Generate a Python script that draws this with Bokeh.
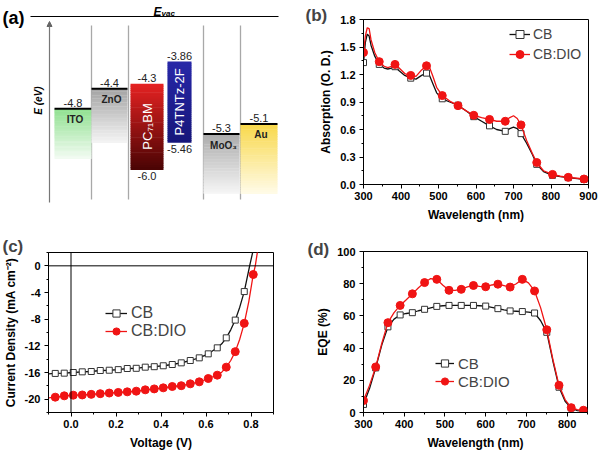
import numpy as np
from bokeh.plotting import figure
from bokeh.layouts import column, row
from bokeh.models import (Range1d, FixedTicker, PrintfTickFormatter, Legend, LegendItem,
                          Label, Span, Arrow, NormalHead)
from bokeh.core.properties import value
from bokeh.embed import file_html
from bokeh.resources import INLINE

FONT = "Liberation Sans"
RED = "#f01414"
BLK = "#111111"

# ---------------- (a) energy level data ----------------
MATERIALS = ["ITO", "ZnO", "PC₇₁BM", "P4TNTz-2F", "MoO₃", "Au"]
LEVEL_TOP = [-4.8, -4.4, -4.3, -3.86, -5.3, -5.1]
LEVEL_BOTTOM = [None, None, -6.0, -5.46, None, None]
TOP_LABELS = ["-4.8", "-4.4", "-4.3", "-3.86", "-5.3", "-5.1"]
BOTTOM_LABELS = ["", "", "-6.0", "-5.46", "", ""]

# ---------------- (b) absorption ----------------
ABS_WL = [300, 305, 310, 315, 320, 330, 342, 355, 365, 375, 384, 395, 410, 426, 440, 455, 468, 475,
          485, 495, 510, 530, 552, 575, 594, 615, 636, 655, 678, 690, 700, 710, 720, 735, 750, 762,
          780, 804, 825, 846, 870, 888, 897]
ABS_CB = [1.33, 1.55, 1.64, 1.62, 1.52, 1.40, 1.31, 1.27, 1.26, 1.27, 1.285, 1.24, 1.19, 1.16, 1.15,
          1.19, 1.215, 1.20, 1.10, 1.00, 0.935, 0.90, 0.865, 0.80, 0.74, 0.69, 0.64, 0.60, 0.58,
          0.61, 0.625, 0.61, 0.555, 0.45, 0.33, 0.22, 0.14, 0.10, 0.085, 0.075, 0.065, 0.055, 0.05]
ABS_DIO = [1.44, 1.62, 1.71, 1.70, 1.58, 1.44, 1.34, 1.29, 1.275, 1.29, 1.31, 1.27, 1.21, 1.19, 1.18,
           1.25, 1.295, 1.29, 1.18, 1.06, 0.97, 0.91, 0.86, 0.80, 0.755, 0.73, 0.71, 0.69, 0.69,
           0.73, 0.75, 0.72, 0.65, 0.48, 0.34, 0.24, 0.15, 0.11, 0.09, 0.078, 0.068, 0.06, 0.055]
ABS_MK_WL = [300, 342, 384, 426, 468, 510, 552, 594, 636, 678, 720, 762, 804, 846, 888]
ABS_MK_CB = [1.33, 1.31, 1.285, 1.16, 1.215, 0.935, 0.865, 0.74, 0.64, 0.58, 0.555, 0.22, 0.10, 0.075, 0.055]
ABS_MK_DIO = [1.44, 1.34, 1.31, 1.19, 1.295, 0.97, 0.86, 0.755, 0.71, 0.69, 0.65, 0.24, 0.11, 0.078, 0.06]

# ---------------- (c) J-V ----------------
JV_MK_V = [-0.07, -0.03, 0.01, 0.05, 0.09, 0.13, 0.17, 0.21, 0.25, 0.29, 0.33, 0.37, 0.41, 0.45,
           0.49, 0.53, 0.57, 0.61, 0.65, 0.69, 0.73, 0.77]
JV_MK_CB = [-16.14, -16.1, -16.0, -15.9, -15.85, -15.7, -15.66, -15.57, -15.4, -15.37, -15.2, -15.13,
            -14.99, -14.8, -14.55, -14.2, -13.8, -13.2, -12.3, -10.8, -8.14, -3.86]
JV_MK_V_DIO = [-0.07, -0.03, 0.01, 0.05, 0.09, 0.13, 0.17, 0.21, 0.25, 0.29, 0.33, 0.37, 0.41, 0.45,
               0.49, 0.53, 0.57, 0.61, 0.65, 0.69, 0.73, 0.77, 0.81]
JV_MK_DIO = [-19.7, -19.5, -19.4, -19.37, -19.28, -19.18, -19.08, -18.99, -18.9, -18.8, -18.6, -18.46,
             -18.3, -18.1, -17.98, -17.7, -17.4, -16.9, -16.4, -15.2, -12.87, -8.63, -1.3]
JV_LN_V_CB = [-0.1, -0.07, -0.03, 0.01, 0.05, 0.09, 0.13, 0.17, 0.21, 0.25, 0.29, 0.33, 0.37, 0.41,
              0.45, 0.49, 0.53, 0.57, 0.61, 0.65, 0.67, 0.69, 0.71, 0.73, 0.75, 0.77, 0.794, 0.81]
JV_LN_CB = [-16.2, -16.14, -16.1, -16.0, -15.9, -15.85, -15.7, -15.66, -15.57, -15.4, -15.37, -15.2,
            -15.13, -14.99, -14.8, -14.55, -14.2, -13.8, -13.2, -12.3, -11.7, -10.8, -9.6, -8.14,
            -6.2, -3.86, 0.0, 2.4]
JV_LN_V_DIO = [-0.1, -0.07, -0.03, 0.01, 0.05, 0.09, 0.13, 0.17, 0.21, 0.25, 0.29, 0.33, 0.37, 0.41,
               0.45, 0.49, 0.53, 0.57, 0.61, 0.65, 0.67, 0.69, 0.71, 0.73, 0.75, 0.77, 0.79, 0.81,
               0.819, 0.83]
JV_LN_DIO = [-19.8, -19.7, -19.5, -19.4, -19.37, -19.28, -19.18, -19.08, -18.99, -18.9, -18.8, -18.6,
             -18.46, -18.3, -18.1, -17.98, -17.7, -17.4, -16.9, -16.4, -15.95, -15.2, -14.2, -12.87,
             -11.0, -8.63, -5.4, -1.3, 0.0, 2.4]

# ---------------- (d) EQE ----------------
EQE_WL = [300, 315, 330, 345, 360, 375, 390, 405, 420, 435, 450, 465, 480, 495, 510, 525, 540, 555,
          570, 585, 600, 615, 630, 645, 660, 675, 690, 705, 720, 735, 750, 765, 780, 795, 810, 825, 840]
EQE_CB = [5.0, 15, 27.7, 42, 53.2, 58, 60.6, 61.5, 62.0, 63.2, 64.1, 65.0, 65.9, 66.3, 66.5, 66.5,
          66.5, 66.5, 66.5, 66.3, 66.1, 65.3, 64.5, 63.7, 63.1, 62.9, 62.7, 62.4, 61.8, 57, 49.8, 32,
          15.7, 7, 2.8, 1.2, 0.8]
EQE_DIO = [7.4, 17, 28.3, 43, 55.8, 62, 66.5, 70, 73.7, 77.5, 80.7, 83.2, 82.7, 79, 75.9, 75.8,
           76.5, 78, 78.9, 78.4, 78.1, 79.2, 79.7, 78.8, 77.9, 80, 82.7, 80.5, 75.5, 65, 51.4, 33,
           16.9, 8, 3.0, 1.8, 1.4]
EQE_MK_WL = [300, 330, 360, 390, 420, 450, 480, 510, 540, 570, 600, 630, 660, 690, 720, 750, 780, 810]
EQE_MK_CB = [5.0, 27.7, 53.2, 60.6, 62.0, 64.1, 65.9, 66.5, 66.5, 66.5, 66.1, 64.5, 63.1, 62.7, 61.8,
             49.8, 15.7, 2.8]
EQE_MK_WL_DIO = [300, 330, 360, 390, 420, 450, 480, 510, 540, 570, 600, 630, 660, 690, 720, 750,
                 780, 810, 840]
EQE_MK_DIO = [7.4, 28.3, 55.8, 66.5, 73.7, 80.7, 82.7, 75.9, 76.5, 78.9, 78.1, 79.7, 77.9, 82.7,
              75.5, 51.4, 16.9, 3.0, 1.4]

# ---------------- (a) layout (schematic) ----------------
A_X0 = [54, 91, 130, 167, 203, 240]
A_X1 = [91, 127, 163, 191, 239, 277]
A_FADE_BOTTOM = [-5.79, -5.47, None, None, -6.48, -6.48]
A_COL_TOP = ["#8fe08f", "#a3a3a3", "#e62222", "#2828a8", "#ababab", "#f8d84a"]
A_COL_BOT = ["#f2fbf2", "#f4f4f4", "#4a0404", "#16167a", "#f6f6f6", "#fffbe8"]
A_SEP_X = [91, 128, 203, 240]


def hex2rgb(h):
    h = h.lstrip("#")
    return np.array([int(h[i:i + 2], 16) for i in (0, 2, 4)], dtype=float)


def mix(c0, c1, t):
    c = hex2rgb(c0) * (1 - t) + hex2rgb(c1) * t
    return "#%02x%02x%02x" % tuple(int(round(v)) for v in c)


pa = figure(width=300, height=226, x_range=Range1d(0, 300), y_range=Range1d(-7.137, -2.648),
            x_axis_type=None, y_axis_type=None, toolbar_location=None, output_backend="svg",
            min_border=0)
pa.frame_align = False
pa.grid.visible = False
pa.outline_line_color = None

pa.segment(x0=A_SEP_X, x1=A_SEP_X, y0=[-3.145] * 4, y1=[-6.601] * 4, line_color="#a8a8a8",
           line_width=1.3)
pa.segment(x0=[30], x1=[278], y0=[-2.966], y1=[-2.966], line_color="black", line_width=1.2)
pa.text(x=[153], y=[-2.872], text=["E"], text_font=value(FONT), text_font_size="12px",
        text_font_style="bold italic", text_baseline="alphabetic", text_align="left")
pa.text(x=[161], y=[-2.900], text=["vac"], text_font=value(FONT), text_font_size="8px",
        text_font_style="bold italic", text_baseline="alphabetic", text_align="left")
pa.text(x=[2], y=[-2.986], text=["(a)"], text_font=value(FONT), text_font_size="18px",
        text_font_style="bold", text_baseline="middle", text_align="left")
pa.add_layout(Arrow(end=NormalHead(size=5, fill_color="#666666", line_color="#666666"),
                    x_start=49, y_start=-6.66, x_end=49, y_end=-3.065,
                    line_color="#777777", line_width=1.2))
pa.text(x=[38], y=[-4.634], text=["E (eV)"], angle=np.pi / 2, text_font=value(FONT),
        text_font_size="10px", text_font_style="bold italic", text_align="center",
        text_baseline="middle")

N = 40
for i, name in enumerate(MATERIALS):
    top = LEVEL_TOP[i]
    bot = LEVEL_BOTTOM[i] if LEVEL_BOTTOM[i] is not None else A_FADE_BOTTOM[i]
    edges = np.linspace(top, bot, N + 1)
    cols = [mix(A_COL_TOP[i], A_COL_BOT[i], (k + 0.5) / N) for k in range(N)]
    step = (top - bot) / N
    pa.quad(left=[A_X0[i]] * N, right=[A_X1[i]] * N, top=list(edges[:-1]),
            bottom=list(edges[1:] - step * 0.3), fill_color=cols, line_color=None)
    xc = (A_X0[i] + A_X1[i]) / 2
    pa.text(x=[xc], y=[top], text=[TOP_LABELS[i]], text_font=value(FONT), text_font_size="11px",
            text_color="#222222", text_align="center", text_baseline="bottom", y_offset=-2)
    if LEVEL_BOTTOM[i] is None:
        pa.segment(x0=[A_X0[i]], x1=[A_X1[i]], y0=[top], y1=[top], line_color="black",
                   line_width=2)
        pa.text(x=[xc + 2], y=[top], text=[name], text_font=value(FONT), text_font_size="10px",
                text_font_style="bold", text_color="#222222", text_align="center",
                text_baseline="middle", y_offset=11)
    else:
        pa.text(x=[xc], y=[bot], text=[BOTTOM_LABELS[i]], text_font=value(FONT),
                text_font_size="11px", text_color="#222222", text_align="center",
                text_baseline="top", y_offset=3)
        pa.text(x=[xc], y=[(top + bot) / 2], text=[name], angle=np.pi / 2, text_font=value(FONT),
                text_font_size="13px", text_color="white", text_align="center",
                text_baseline="middle")


def make_panel(xr, yr, mb, xticks, yticks, xfmt, yfmt, xlabel, ylabel, tag, tag_pos):
    p = figure(width=300, height=226, x_range=Range1d(*xr), y_range=Range1d(*yr),
               toolbar_location=None, output_backend="svg",
               min_border_left=mb[0], min_border_right=mb[1], min_border_top=mb[2],
               min_border_bottom=mb[3])
    p.frame_align = False
    p.grid.visible = False
    p.outline_line_color = "black"
    p.outline_line_width = 1
    xminor = [(a + b) / 2 for a, b in zip(xticks[:-1], xticks[1:])]
    yminor = [(a + b) / 2 for a, b in zip(yticks[:-1], yticks[1:])]
    p.xaxis.ticker = FixedTicker(ticks=xticks, minor_ticks=xminor + xticks)
    p.yaxis.ticker = FixedTicker(ticks=yticks, minor_ticks=yminor + yticks)
    p.xaxis.formatter = PrintfTickFormatter(format=xfmt)
    p.yaxis.formatter = PrintfTickFormatter(format=yfmt)
    for ax in (p.xaxis, p.yaxis):
        ax.major_tick_out = 4
        ax.major_tick_in = 0
        ax.minor_tick_out = 2
        ax.minor_tick_in = 0
        ax.axis_line_color = "black"
        ax.major_tick_line_color = "black"
        ax.minor_tick_line_color = "black"
        ax.major_label_text_font = FONT
        ax.major_label_text_font_size = "11px"
        ax.major_label_text_font_style = "bold"
        ax.major_label_text_color = "black"
        ax.axis_label_text_font = FONT
        ax.axis_label_text_font_size = "12px"
        ax.axis_label_text_font_style = "bold"
        ax.axis_label_text_color = "black"
    p.xaxis.major_label_standoff = 3
    p.yaxis.major_label_standoff = 4
    p.xaxis.axis_label_standoff = 5
    p.yaxis.axis_label_standoff = 4
    p.xaxis.axis_label = xlabel
    p.yaxis.axis_label = ylabel
    p.add_layout(Label(x=tag_pos[0], y=tag_pos[1], x_units="screen", y_units="screen", text=tag,
                       text_font=FONT, text_font_size="17px", text_font_style="bold",
                       text_baseline="top", text_align="left"), "above")
    return p


def add_series(p, lx, ly, mx, my, sq):
    if sq:
        l = p.line(lx, ly, line_color=BLK, line_width=1.3)
        s = p.scatter(mx, my, marker="square", size=6, fill_color="white", line_color="#333333",
                      line_width=1)
    else:
        l = p.line(lx, ly, line_color=RED, line_width=1.3)
        s = p.scatter(mx, my, marker="circle", size=8, fill_color=RED, line_color=RED)
    return l, s


def add_legend(p, items, loc, fs, rowh, gw, standoff):
    lg = Legend(items=[LegendItem(label=t, renderers=r) for t, r in items], location=loc,
                border_line_color=None, background_fill_alpha=0, padding=0, margin=0, spacing=0,
                glyph_width=gw, glyph_height=rowh, label_height=rowh, label_standoff=standoff,
                label_text_font=FONT, label_text_font_size=fs)
    p.add_layout(lg)


# ---------------- (b) ----------------
pb = make_panel((300, 900), (0, 1.8), (63, 12, 17, 42), [300, 400, 500, 600, 700, 800, 900],
                [0.0, 0.3, 0.6, 0.9, 1.2, 1.5, 1.8], "%d", "%.1f", "Wavelength (nm)",
                "Absorption (O. D.)", "(b)", (-58, 14))
b1 = add_series(pb, ABS_WL, ABS_CB, ABS_MK_WL, ABS_MK_CB, True)
b2 = add_series(pb, ABS_WL, ABS_DIO, ABS_MK_WL, ABS_MK_DIO, False)
add_legend(pb, [("CB", list(b1)), ("CB:DIO", list(b2))], (146, 120), "14px", 20, 21, 3)

# ---------------- (c) ----------------
pc = make_panel((-0.1, 0.9), (-22, 2), (48, 27, 26, 34), [0.0, 0.2, 0.4, 0.6, 0.8],
                [-20, -16, -12, -8, -4, 0], "%.1f", "%d", "Voltage (V)",
                "Current Density (mA cm⁻²)", "(c)", (-46, 16))
pc.xaxis.ticker.minor_ticks = [-0.1, 0.0, 0.1, 0.2, 0.3, 0.4, 0.5, 0.6, 0.7, 0.8, 0.9]
pc.yaxis.ticker.minor_ticks = [-22, -20, -18, -16, -14, -12, -10, -8, -6, -4, -2, 0, 2]
pc.add_layout(Span(location=0, dimension="width", line_color="black", line_width=1))
pc.add_layout(Span(location=0, dimension="height", line_color="black", line_width=1))
c1 = add_series(pc, JV_LN_V_CB, JV_LN_CB, JV_MK_V, JV_MK_CB, True)
c2 = add_series(pc, JV_LN_V_DIO, JV_LN_DIO, JV_MK_V_DIO, JV_MK_DIO, False)
add_legend(pc, [("CB", list(c1)), ("CB:DIO", list(c2))], (57, 72), "16px", 18, 22, 4)

# ---------------- (d) ----------------
pd_ = make_panel((300, 850), (0, 100), (63, 13, 25, 34), [300, 400, 500, 600, 700, 800],
                 [0, 20, 40, 60, 80, 100], "%d", "%d", "Wavelength (nm)", "EQE (%)", "(d)",
                 (-56, 12))
pd_.xaxis.ticker.minor_ticks = [300, 350, 400, 450, 500, 550, 600, 650, 700, 750, 800, 850]
d1 = add_series(pd_, EQE_WL, EQE_CB, EQE_MK_WL, EQE_MK_CB, True)
d2 = add_series(pd_, EQE_WL, EQE_DIO, EQE_MK_WL_DIO, EQE_MK_DIO, False)
add_legend(pd_, [("CB", list(d1)), ("CB:DIO", list(d2))], (72, 22), "15px", 18, 19, 4)

layout = column(row(pa, pb), row(pc, pd_))
open("out.html", "w").write(file_html(layout, INLINE))
